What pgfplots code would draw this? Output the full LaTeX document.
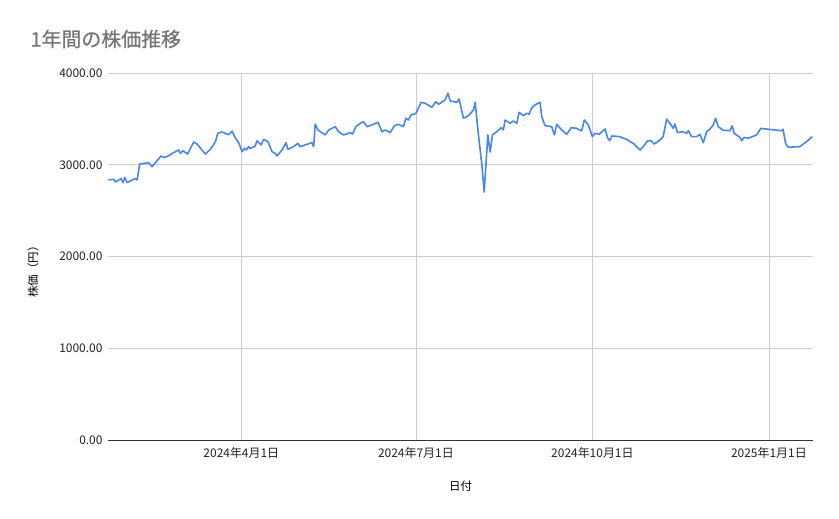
\documentclass[border=0pt]{standalone}
\usepackage{fontspec}
\setmainfont{Noto Sans CJK JP}
\newfontfamily\titlefont[FakeBold=0.6]{Noto Sans CJK JP}
\usepackage{pgfplots}
\pgfplotsset{compat=1.18}
\definecolor{linecol}{RGB}{74,134,232}
\definecolor{gridcol}{RGB}{204,204,204}
\definecolor{titlecol}{RGB}{117,117,117}
\definecolor{txtcol}{RGB}{34,34,34}
\begin{document}
\begin{tikzpicture}[x=1bp,y=1bp]
\begin{axis}[
  at={(0,0)}, anchor=south west,
  scale only axis, width=705bp, height=367bp,
  xmin=21.5, xmax=389, ymin=0, ymax=4000,
  axis x line*=bottom, axis y line*=left,
  y axis line style={draw=none},
  x axis line style={draw=black!80, line width=0.8bp},
  xtick={91,182,274,366},
  xticklabels={2024年4月1日,2024年7月1日,2024年10月1日,2025年1月1日},
  ytick={0,1000,2000,3000,4000},
  major tick length=0pt,
  grid=major,
  major grid style={draw=gridcol, line width=0.75bp},
  /pgf/number format/assume math mode=true,
  /pgf/number format/fixed, /pgf/number format/fixed zerofill,
  /pgf/number format/precision=2, /pgf/number format/1000 sep={},
  tick label style={font=\fontsize{12}{14}\selectfont, text=txtcol},
  yticklabel style={xshift=-2bp},
  xticklabel style={yshift=-4bp},
  xlabel={日付}, ylabel={株価（円）},
  label style={font=\fontsize{11.5}{13}\selectfont, text=black},
  xlabel style={at={(rel axis cs:0.5,0)}, anchor=center, yshift=-46bp},
  ylabel style={at={(rel axis cs:0,0.466)}, anchor=center, yshift=75bp},
  clip=false,
]
\addplot[color=linecol, line width=1.6bp, line join=round, mark=none] coordinates {
(21.7,2834)(24.5,2842)(25.4,2812)(27.1,2834)(28.3,2848)(29.4,2805)(30.2,2863)(31.5,2805)
(34.1,2834)(35.8,2848)(36.7,2834)(38,3008)(40,3014)(42.7,3023)(44.5,2979)(46.2,3023)
(49.2,3096)(50.5,3081)(52.3,3088)(55.7,3132)(58.3,3161)(59.2,3125)(60.6,3153)(63,3117)
(66.2,3248)(67.9,3226)(72.25,3117)(74.9,3169)(77.5,3251)(78.7,3343)(80.9,3357)(84.4,3328)
(86.2,3365)(87.9,3292)(89.6,3241)(91.4,3142)(92.7,3180)(93.6,3161)(94.8,3197)(95.7,3177)
(98.3,3205)(99.2,3262)(101.4,3216)(102.6,3278)(104.9,3251)(107,3142)(108.7,3125)(109.6,3096)
(112.2,3161)(114.3,3241)(115.3,3169)(118.2,3197)(120.5,3234)(121.7,3197)(125.2,3223)(127.8,3241)
(128.7,3197)(129.5,3444)(130.9,3379)(134.75,3325)(136.5,3379)(140,3415)(141.7,3361)(144.3,3325)
(147.8,3350)(149,3335)(150.7,3415)(153,3452)(154.7,3469)(156.5,3415)(159.1,3434)(162.2,3463)
(164.3,3361)(166,3379)(168.6,3350)(170.8,3426)(172.9,3441)(175.5,3415)(176.8,3507)(178.1,3488)
(179.5,3543)(182,3561)(184.75,3681)(186.8,3670)(190.3,3626)(192.4,3687)(193.8,3659)(197.25,3706)
(198.7,3779)(199.9,3695)(203.3,3681)(204.5,3717)(206.8,3507)(209.4,3535)(212,3597)(212.9,3681)
(214.6,3325)(216.4,2998)(217.6,2703)(219.5,3325)(220.7,3139)(221.9,3325)(224.2,3361)(226.4,3404)
(227.6,3379)(228.5,3488)(231.1,3452)(232.8,3477)(234.6,3452)(235.8,3572)(238,3535)(239.8,3561)
(241,3550)(242.4,3622)(244.1,3652)(246.7,3681)(247.6,3524)(249.3,3426)(252.8,3415)(254.2,3325)
(255.4,3441)(258,3379)(260.6,3332)(262.9,3404)(265.8,3397)(268.4,3368)(269.8,3488)(271.9,3434)
(274,3306)(275.4,3343)(277.5,3332)(280.6,3390)(282,3289)(283.2,3262)(284.1,3314)(288.4,3306)
(290.1,3289)(291.9,3278)(293.6,3251)(295.3,3234)(297.1,3197)(298.8,3161)(300.5,3197)(302.8,3262)
(304.5,3262)(306.3,3226)(309.2,3270)(310.9,3306)(312.7,3496)(314.4,3452)(316.2,3397)(317,3444)
(318.4,3350)(320.8,3361)(323.1,3343)(324,3371)(325.7,3306)(328.3,3306)(330.1,3332)(331.8,3241)
(333.6,3361)(335.3,3390)(337,3434)(338.2,3507)(339.6,3415)(342.2,3376)(345.7,3371)(346.9,3423)
(347.9,3343)(350.9,3299)(351.8,3262)(353.1,3299)(355.2,3289)(359.6,3325)(361.8,3397)(365.6,3387)
(372.6,3371)(373.4,3387)(374.7,3234)(376,3191)(382.1,3197)(385.6,3251)(388.6,3306)
};
\end{axis}
\node[anchor=west, text=titlecol, font=\titlefont\fontsize{20}{24}\selectfont] at (-81bp,401bp) {1年間の株価推移};
\pgfresetboundingbox
\path[use as bounding box] (-108bp,-79bp) rectangle (731bp,440bp);
\end{tikzpicture}
\end{document}
